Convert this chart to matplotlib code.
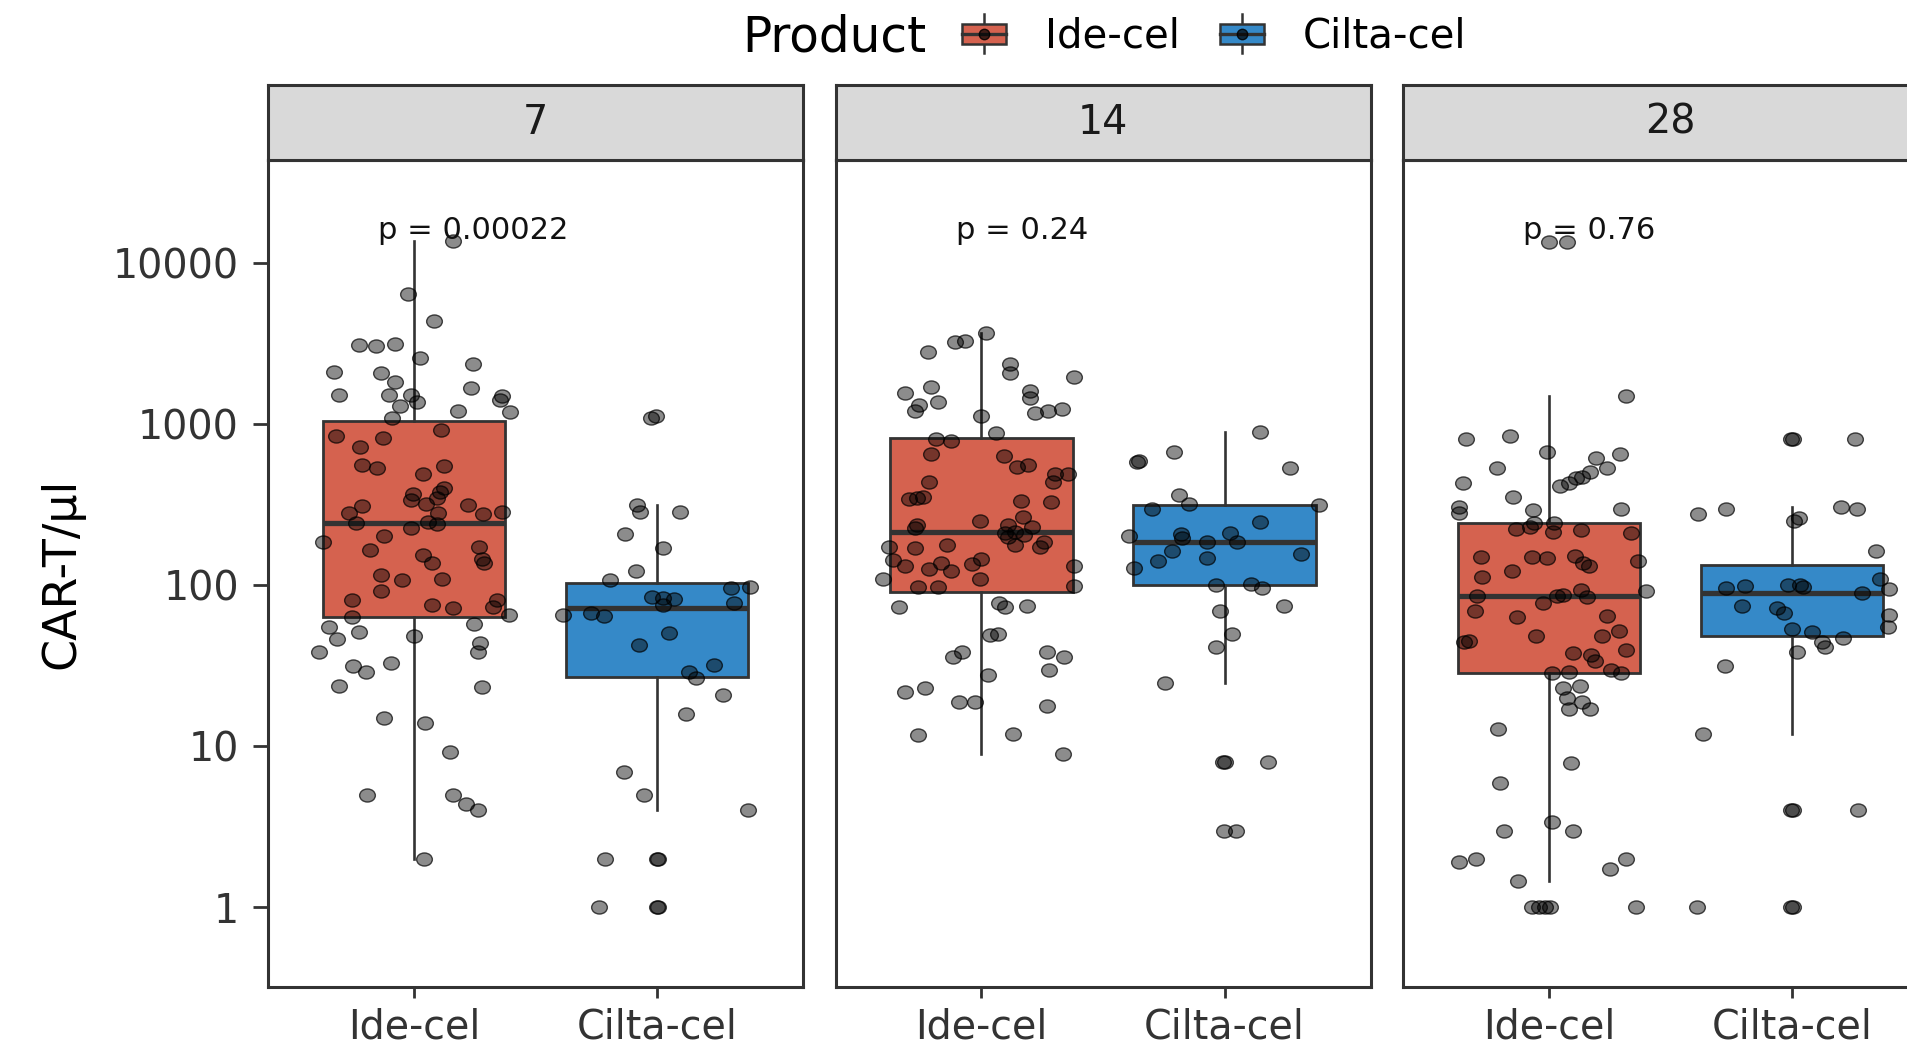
import matplotlib
matplotlib.use("Agg")
import matplotlib.pyplot as plt
from matplotlib.path import Path
from matplotlib.transforms import Affine2D
from matplotlib.patches import Patch, Rectangle
from matplotlib.lines import Line2D
from matplotlib.legend_handler import HandlerBase

plt.rcParams['font.family'] = ['DejaVu Sans']

# ---------------- data ----------------
days = ['7', '14', '28']
products = ['Ide-cel', 'Cilta-cel']
p_labels = ['p = 0.00022', 'p = 0.24', 'p = 0.76']

ide_d7 = [13800, 6410, 4390, 3110, 3080, 3160, 2590, 2120, 2090, 2370,
          1820, 1530, 1530, 1530, 1690, 1500, 1420, 1370, 1300, 1210,
          1190, 1100, 845, 826, 923, 726, 558, 537, 553, 491,
          400, 381, 369, 339, 347, 318, 312, 316, 280, 280,
          276, 284, 243, 248, 240, 226, 185, 203, 166, 174,
          154, 137, 145, 138, 116, 108, 109, 92.5, 81.1, 75.5,
          71.9, 81.1, 73.6, 63.8, 65.5, 54.8, 51.5, 46.2, 48.4, 57.3,
          43.7, 38.7, 38.7, 31.6, 28.8, 32.8, 23.8, 23.2, 14.9, 13.9,
          9.2, 5.0, 5.0, 4.4, 4.0, 2.0]
jit_ide_d7 = [0.159, -0.025, 0.081, -0.225, -0.156, -0.076, 0.024, -0.328, -0.135, 0.244,
              -0.076, -0.307, -0.101, -0.010, 0.236, 0.361, 0.352, 0.012, -0.058, 0.181,
              0.396, -0.091, -0.322, -0.127, 0.112, -0.222, -0.212, -0.152, 0.122, 0.037,
              0.122, 0.108, -0.005, -0.010, 0.093, 0.049, -0.212, 0.224, -0.266, 0.100,
              0.283, 0.364, -0.240, 0.056, 0.093, -0.014, -0.372, -0.123, -0.182, 0.268,
              0.039, 0.075, 0.279, 0.290, -0.137, -0.050, 0.115, -0.135, -0.255, 0.075,
              0.162, 0.342, 0.327, -0.255, 0.393, -0.351, -0.225, -0.318, 0.000, 0.247,
              0.272, 0.264, -0.391, -0.249, -0.196, -0.094, -0.307, 0.279, -0.124, 0.044,
              0.147, -0.193, 0.159, 0.213, 0.264, 0.041]

cil_d7 = [1100, 1120, 316, 286, 286, 208, 170, 123, 108,
          95.7, 98, 84.9, 83, 81.8, 77.3, 75.5, 65.5, 67, 64.4,
          50.8, 42.6, 32, 29, 26.7, 20.8, 15.8, 6.95, 5.0, 4.0,
          2, 2, 2, 1, 1, 1]
jit_cil_d7 = [-0.025, -0.005, -0.083, -0.071, 0.093, -0.130, 0.024, -0.086, -0.192,
              0.302, 0.383, -0.020, 0.024, 0.068, 0.317, 0.024, -0.387, -0.270, -0.219,
              0.049, -0.074, 0.233, 0.132, 0.159, 0.270, 0.119, -0.138, -0.054, 0.373,
              -0.214, -0.002, 0.004, -0.237, -0.002, 0.004]

ide_d14 = [3700, 3260, 3300, 2820, 2360, 2070, 1980, 1560, 1700, 1370,
           1320, 1210, 1620, 1450, 1180, 1210, 1240, 1130, 887, 807,
           791, 655, 635, 546, 558, 491, 491, 440, 440, 342,
           347, 355, 334, 330, 252, 264, 237, 226, 237, 229,
           210, 215, 205, 200, 174, 170, 178, 178, 187, 174,
           144, 132, 126, 137, 123, 136, 145, 131, 110, 109,
           99, 97.3, 97.3, 72.9, 78, 72.9, 74.3,
           49.1, 49.8, 38.7, 35.7, 38.7, 36.1, 29.8, 27.7, 21.8, 22.9,
           18.9, 18.9, 17.8, 11.7, 11.9, 8.95]
jit_ide_d14 = [0.019, -0.110, -0.069, -0.221, 0.118, 0.118, 0.382, -0.316, -0.206, -0.177,
               -0.255, -0.272, 0.201, 0.201, 0.221, 0.275, 0.331, 0.000, 0.059, -0.187,
               -0.125, -0.206, 0.091, 0.147, 0.191, 0.302, 0.358, 0.294, -0.216, -0.299,
               -0.265, -0.240, 0.162, 0.287, -0.007, 0.169, -0.265, -0.275, 0.110, 0.206,
               0.096, 0.140, 0.176, 0.110, -0.378, -0.275, -0.140, 0.140, 0.258, 0.240,
               -0.363, -0.314, -0.216, -0.166, -0.125, -0.037, 0.000, 0.379, -0.405, -0.007,
               0.379, -0.260, -0.177, -0.339, 0.073, 0.098, 0.188,
               0.037, 0.069, -0.078, -0.118, 0.269, 0.338, 0.279, 0.029, -0.316, -0.231,
               -0.093, -0.025, 0.268, -0.260, 0.128, 0.335]

cil_d14 = [900, 586, 596, 676, 537, 364, 320, 316, 296, 248,
           203, 207, 196, 212, 187, 187, 164, 156, 142, 147,
           128, 100, 102, 96.6, 74.3, 69.5, 49.7, 41.6, 24.8,
           8, 8, 8, 3, 3]
jit_cil_d14 = [0.147, -0.360, -0.350, -0.206, 0.269, -0.187, -0.147, 0.390, -0.297, 0.144,
               -0.393, -0.181, -0.176, 0.022, -0.073, 0.049, -0.216, 0.316, -0.275, -0.073,
               -0.372, -0.037, 0.108, 0.155, 0.243, -0.017, 0.030, -0.037, -0.246,
               -0.006, 0.000, 0.177, -0.003, 0.047]

ide_d28 = [13600, 13600, 1500, 807, 845, 670, 652, 621, 537, 537,
           504, 469, 462, 434, 414, 431, 355, 308, 280, 294,
           298, 245, 245, 223, 231, 215, 220, 210, 151, 151,
           147, 152, 137, 132, 142, 123, 113, 93.5, 92.3, 85.7,
           85.7, 87.1, 84.9, 78, 69.2, 63.8, 64.4,
           48.6, 48.6, 52.2, 44.3, 45.3, 39.6, 37.8, 36.9, 33.9,
           28.4, 29, 29.8, 28.6, 22.9, 23.7, 19.9, 18.9, 17, 17,
           12.9, 7.9, 5.9, 3.4, 3, 3, 1.9, 2, 2, 1.72, 1.46,
           1, 1, 1, 1, 1]
jit_ide_d28 = [0.000, 0.076, 0.319, -0.342, -0.160, -0.009, 0.292, 0.192, 0.237, -0.215,
               0.169, 0.137, 0.110, 0.082, 0.045, -0.352, -0.146, -0.370, -0.370, -0.064,
               0.295, -0.061, 0.021, -0.137, -0.078, 0.016, 0.134, 0.339, -0.281, -0.068,
               -0.009, 0.106, 0.141, 0.164, 0.366, -0.150, -0.277, 0.130, 0.398, -0.294,
               0.035, 0.059, 0.158, -0.023, -0.305, -0.130, 0.237,
               -0.054, 0.219, 0.288, -0.349, -0.328, 0.315, 0.099, 0.174, 0.189,
               0.014, 0.082, 0.254, 0.298, 0.058, 0.126, 0.076, 0.137, 0.082, 0.171,
               -0.208, 0.092, -0.203, 0.014, -0.185, 0.099, -0.370, -0.301, 0.318, 0.250, -0.126,
               -0.068, -0.041, -0.018, 0.004, 0.360]

cil_d28 = [811, 811, 811, 276, 298, 308, 298, 261, 251,
           163, 110, 94.4, 96.6, 99.5, 101, 100, 98, 90,
           74.3, 71.9, 67, 65.5,
           55.3, 53.5, 51, 44.7, 41.6, 46.9, 38.7, 31.6,
           11.9, 4, 4, 4, 1, 1, 1]
jit_cil_d28 = [-0.005, 0.005, 0.259, -0.388, -0.272, 0.201, 0.266, 0.030, 0.009,
               0.345, 0.362, 0.400, -0.271, -0.193, -0.018, 0.033, 0.044, 0.286,
               -0.207, -0.063, -0.032, 0.400,
               0.396, -0.001, 0.081, 0.122, 0.136, 0.208, 0.019, -0.275,
               -0.367, -0.003, 0.003, 0.271, -0.392, -0.003, 0.003]

# box statistics: [Ide-cel, Cilta-cel] per day
box_q1 = [[64, 27], [91, 100], [28.4, 48.6]]
box_med = [[245, 72], [213, 187], [85.7, 90]]
box_q3 = [[1050, 104], [826, 316], [245, 134]]
box_lo = [[2.0, 4.0], [8.95, 24.8], [1.46, 11.9]]
box_hi = [[13800, 316], [3700, 900], [1500, 308]]

values = [[ide_d7, cil_d7], [ide_d14, cil_d14], [ide_d28, cil_d28]]
jitters = [[jit_ide_d7, jit_cil_d7], [jit_ide_d14, jit_cil_d14], [jit_ide_d28, jit_cil_d28]]

# ---------------- style ----------------
fills = ['#D5624F', '#3589C8']
dark = '#333333'
W, H = 1907, 1051
fig = plt.figure(figsize=(W / 100, H / 100), dpi=100)

panel_left = [268, 835.5, 1403]
panel_w = 535
panel_bottom, panel_top = 986.7, 160
strip_top = 85
p_xfrac = [0.384, 0.348, 0.347]

# ellipse marker (picture is slightly wider than tall)
ell = Path.unit_circle().transformed(Affine2D().scale(1.2, 1.0))

for i, day in enumerate(days):
    x0 = panel_left[i] / W
    ax = fig.add_axes([x0, 1 - panel_bottom / H, panel_w / W, (panel_bottom - panel_top) / H])
    ax.set_yscale('log')
    stats = []
    for j in range(2):
        stats.append(dict(q1=box_q1[i][j], med=box_med[i][j], q3=box_q3[i][j],
                          whislo=box_lo[i][j], whishi=box_hi[i][j], fliers=[]))
    bp = ax.bxp(stats, positions=[1, 2], widths=0.75, patch_artist=True,
                showfliers=False, showcaps=False,
                boxprops=dict(edgecolor=dark, linewidth=2.0),
                medianprops=dict(color=dark, linewidth=3.8, solid_capstyle='butt'),
                whiskerprops=dict(color=dark, linewidth=1.9), zorder=2)
    for patch, c in zip(bp['boxes'], fills):
        patch.set_facecolor(c)
    for j in range(2):
        xs = [j + 1 + d for d in jitters[i][j]]
        ax.scatter(xs, values[i][j], marker=ell, s=128,
                   facecolors=(0, 0, 0, 0.45), edgecolors=(0, 0, 0, 0.7),
                   linewidths=1.0, zorder=3)
    ax.set_xlim(0.4, 2.6)
    ax.set_ylim(0.3213, 43850)
    ax.set_xticks([1, 2])
    ax.set_xticklabels(products, fontsize=28.5, color=dark)
    ax.tick_params(axis='x', length=8, width=2.0, color=dark, pad=7)
    ax.minorticks_off()
    if i == 0:
        ax.set_yticks([1, 10, 100, 1000, 10000])
        ax.set_yticklabels(['1', '10', '100', '1000', '10000'], fontsize=28.5, color=dark)
        ax.tick_params(axis='y', length=11, width=2.0, color=dark, pad=10)
        ax.set_ylabel('CAR-T/\u00b5l', fontsize=33, va='center', ha='center')
        ax.yaxis.set_label_coords((61.7 - panel_left[0]) / panel_w, 0.5)
    else:
        ax.set_yticks([])
    for sp in ax.spines.values():
        sp.set_color(dark)
        sp.set_linewidth(2.2)
    ax.text(p_xfrac[i], 0.9145, p_labels[i], transform=ax.transAxes,
            ha='center', va='center', fontsize=22, color='#111111')

    # facet strip
    sax = fig.add_axes([x0, 1 - panel_top / H, panel_w / W, (panel_top - strip_top) / H])
    sax.set_facecolor('#D9D9D9')
    sax.set_xticks([])
    sax.set_yticks([])
    for sp in sax.spines.values():
        sp.set_color(dark)
        sp.set_linewidth(2.2)
    sax.text(0.5, 0.5, day, transform=sax.transAxes, ha='center', va='center',
             fontsize=28.5, color='#1a1a1a')


class BoxKey(HandlerBase):
    def create_artists(self, legend, orig_handle, xdescent, ydescent,
                       width, height, fontsize, trans):
        fc = orig_handle.get_facecolor()
        x0, y0 = -xdescent, -ydescent
        cx = x0 + width / 2
        bh = height * 0.55
        by = y0 + (height - bh) / 2
        whisk = Line2D([cx, cx], [y0 - height * 0.05, y0 + height * 1.05],
                       color=dark, lw=1.8, transform=trans)
        box = Rectangle((x0, by), width, bh, facecolor=fc, edgecolor=dark,
                        lw=1.8, transform=trans)
        med = Line2D([x0, x0 + width], [y0 + height / 2] * 2, color=dark,
                     lw=2.4, transform=trans)
        dot = Line2D([cx], [y0 + height / 2], marker='o', ms=7.5, linestyle='none',
                     markerfacecolor=(0, 0, 0, 0.7), markeredgecolor=(0, 0, 0, 0.85),
                     transform=trans)
        return [whisk, box, med, dot]


handles = [Patch(facecolor=c) for c in fills]
leg = fig.legend(handles, products, loc='center left',
                 bbox_to_anchor=(962 / W, 1 - 36 / H), ncol=2, frameon=False,
                 fontsize=29, handlelength=1.1, handleheight=1.0,
                 handletextpad=0.95, columnspacing=1.0, borderpad=0,
                 borderaxespad=0, handler_map={Patch: BoxKey()})
fig.text(926 / W, 1 - 37 / H, 'Product', ha='right', va='center', fontsize=35)

fig.savefig('out.png', dpi=100)
